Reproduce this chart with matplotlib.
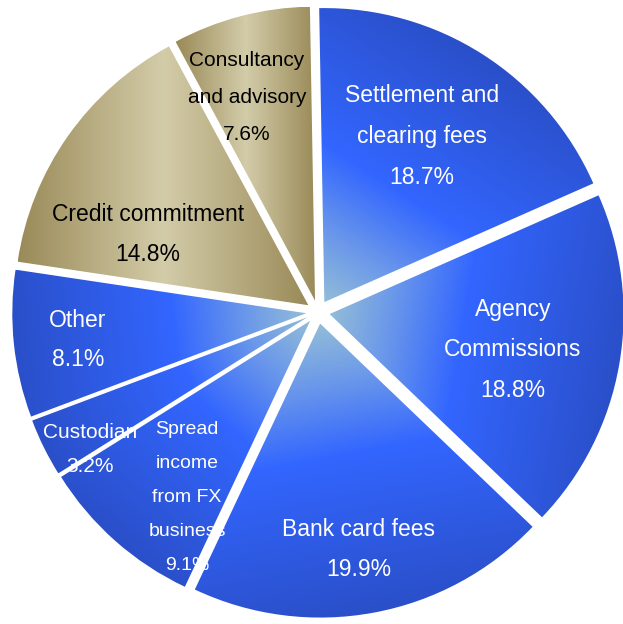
#!/usr/bin/env python3
"""Fee and commission income breakdown — exploded pie with gradient-filled wedges."""

import matplotlib
matplotlib.use("Agg")
import matplotlib.pyplot as plt
import numpy as np
from matplotlib.colors import LinearSegmentedColormap, to_rgb

# ---------------------------------------------------------------------------
# Data
# ---------------------------------------------------------------------------

CATEGORIES = [
    "Settlement and\nclearing fees",
    "Agency\nCommissions",
    "Bank card fees",
    "Spread\nincome\nfrom FX\nbusiness",
    "Custodian",
    "Other",
    "Credit commitment",
    "Consultancy\nand advisory",
]
SHARES = [18.7, 18.8, 19.9, 9.1, 3.2, 8.1, 14.8, 7.6]
GROUPS = ["blue", "blue", "blue", "blue", "blue", "blue", "gold", "gold"]

# ---------------------------------------------------------------------------
# Layout (pixels, origin top-left)
# ---------------------------------------------------------------------------

W_PX, H_PX = 623, 624
CX, CY = 318, 312          # pie centre
R_PX = 294                 # pie radius
EXPLODE = 0.04

# label block centre (x, y of first line), line pitch, font size
LABEL_POS = [
    (422, 93, 41, 16.5),
    (513, 307, 40.5, 16.5),
    (359, 527, 40, 16.5),
    (187, 428, 34, 14),
    (90, 430, 35, 15),
    (78, 318, 39, 16.5),
    (148, 212, 40, 16.5),
    (247, 58, 37.5, 15),
]

BLUE_CMAP = LinearSegmentedColormap.from_list(
    "blue_fill",
    [(0.0, "#92bcd8"), (0.2, "#6b98ea"), (0.45, "#3366ff"), (1.0, "#2a4fc9")],
)
GOLD_DARK = np.array(to_rgb("#9a8a58"))
GOLD_LIGHT = np.array(to_rgb("#d3cca9"))


def px_to_data(x, y):
    return (x - CX) / R_PX, (CY - y) / R_PX


def gradient_fill(ax, wedge, group):
    """Paint a wedge with a clipped gradient image."""
    ext = wedge.get_path().get_extents()
    x0, y0, x1, y1 = ext.x0, ext.y0, ext.x1, ext.y1
    n = 300
    xs = np.linspace(x0, x1, n)
    ys = np.linspace(y0, y1, n)
    X, Y = np.meshgrid(xs, ys)

    if group == "blue":
        cx, cy = wedge.center
        mid = np.deg2rad((wedge.theta1 + wedge.theta2) / 2)
        t = ((X - cx) * np.cos(mid) + (Y - cy) * np.sin(mid)) / wedge.r
        rgb = BLUE_CMAP(np.clip(t, 0, 1))[..., :3]
    else:
        s = (X - x0) / (x1 - x0)
        w = 1 - np.abs(2 * s - 1)
        rgb = GOLD_DARK + (GOLD_LIGHT - GOLD_DARK) * w[..., None]

    im = ax.imshow(rgb, extent=(x0, x1, y0, y1), origin="lower",
                   interpolation="bilinear", zorder=2)
    im.set_clip_path(wedge)


fig = plt.figure(figsize=(W_PX / 100, H_PX / 100), dpi=100)
ax = fig.add_axes([0, 0, 1, 1])

wedges, _ = ax.pie(
    SHARES,
    startangle=91,
    counterclock=False,
    explode=[EXPLODE] * len(SHARES),
    wedgeprops=dict(linewidth=0),
)

for wedge, group in zip(wedges, GROUPS):
    wedge.set_facecolor("none")
    gradient_fill(ax, wedge, group)

# labels
for label, share, group, (lx, ly, pitch, fs) in zip(CATEGORIES, SHARES, GROUPS, LABEL_POS):
    lines = label.split("\n") + [f"{share:.1f}%"]
    color = "white" if group == "blue" else "black"
    for i, line in enumerate(lines):
        x, y = px_to_data(lx, ly + i * pitch)
        ax.text(x, y, line, ha="center", va="center_baseline", color=color,
                fontsize=fs, family="Liberation Sans", zorder=5)

ax.set_xlim(-CX / R_PX, (W_PX - CX) / R_PX)
ax.set_ylim((CY - H_PX) / R_PX, CY / R_PX)
ax.set_aspect("auto")
ax.axis("off")

fig.savefig("out.png", dpi=100)
